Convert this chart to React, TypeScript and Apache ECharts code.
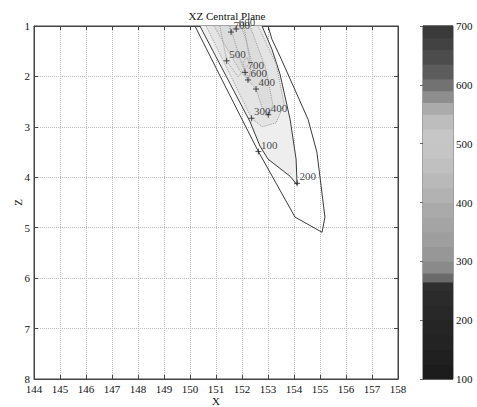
import React, { useEffect, useRef } from "react";
import * as echarts from "echarts";

// Axis ticks
const xMin = 144, xMax = 158;
const zMin = 1, zMax = 8;
const cbMin = 100, cbMax = 700;

// Contour lines [x, z]
const contour100: number[][] = [
  [150.19, 1.0], [151.41, 2.25], [152.62, 3.48], [154.04, 4.79], [155.08, 5.09],
  [155.19, 4.79], [154.88, 3.5], [154.54, 2.85], [153.85, 2.05], [153.46, 1.6],
  [153.15, 1.26], [153.0, 1.0],
];
const contour200: number[][] = [
  [150.38, 1.0], [152.31, 2.9], [152.69, 3.38], [153.0, 3.64], [153.85, 3.98],
  [154.12, 4.15], [154.08, 3.64], [153.85, 2.85], [153.46, 1.95], [153.15, 1.46],
  [152.77, 1.0],
];
const contour300: number[][] = [
  [150.62, 1.0], [152.37, 2.83], [152.77, 3.0], [153.31, 2.92], [153.62, 2.55],
  [153.31, 1.75], [152.62, 1.0],
];
const contour400: number[][] = [
  [150.92, 1.0], [151.92, 1.89], [152.54, 2.25], [152.77, 2.61], [153.0, 2.77],
  [153.19, 2.57], [152.92, 1.85], [152.31, 1.0],
];
const contour500: number[][] = [
  [151.15, 1.0], [151.41, 1.69], [151.85, 2.01], [152.31, 1.73], [152.08, 1.0],
];
const contour600: number[][] = [
  [151.54, 1.0], [151.92, 1.65], [152.23, 2.07], [152.46, 1.89], [152.15, 1.26],
  [151.96, 1.0],
];
const contour700a: number[][] = [
  [151.5, 1.0], [151.58, 1.12], [151.73, 1.0],
];
const contour700b: number[][] = [
  [152.04, 1.71], [152.12, 1.92], [152.27, 2.01], [152.35, 1.81], [152.19, 1.62],
  [152.04, 1.71],
];

// Contour labels [x, z, level]
const contourLabels: number[][] = [
  [151.58, 1.12, 700],
  [151.78, 1.06, 600],
  [151.41, 1.69, 500],
  [152.12, 1.92, 700],
  [152.23, 2.07, 600],
  [152.54, 2.25, 400],
  [152.37, 2.83, 300],
  [153.01, 2.76, 400],
  [152.63, 3.49, 100],
  [154.12, 4.12, 200],
];

// Colorbar bands [low, high] and their gray shades
const colorbarBands: number[][] = [
  [100, 125], [125, 150], [150, 175], [175, 200], [200, 225], [225, 250],
  [250, 265], [265, 280], [280, 300], [300, 325], [325, 350], [350, 375],
  [375, 400], [400, 425], [425, 450], [450, 475], [475, 500], [500, 525],
  [525, 550], [550, 570], [570, 590], [590, 610], [610, 635], [635, 660],
  [660, 680], [680, 700],
];
const colorbarGrays: string[] = [
  "#1c1c1c", "#202020", "#232323", "#252525", "#282828", "#2b2b2b",
  "#2e2e2e", "#6a6a6a", "#8a8a8a", "#979797", "#9e9e9e", "#a4a4a4",
  "#aaaaaa", "#b2b2b2", "#b9b9b9", "#c0c0c0", "#c5c5c5", "#c6c6c6",
  "#bdbdbd", "#ababab", "#8e8e8e", "#727272", "#5c5c5c", "#4c4c4c",
  "#424242", "#3a3a3a",
];

const FONT = "Liberation Serif";

export default function App() {
  const ref = useRef<HTMLDivElement>(null);
  useEffect(() => {
    const chart = echarts.init(ref.current!, null, { renderer: "svg" });

    const solid = (data: number[][]) => ({
      type: "line",
      xAxisIndex: 0,
      yAxisIndex: 0,
      data,
      showSymbol: false,
      silent: true,
      z: 3,
      lineStyle: { color: "#3a3a3a", width: 1 },
    });
    const dotted = (data: number[][]) => ({
      type: "line",
      xAxisIndex: 0,
      yAxisIndex: 0,
      data,
      showSymbol: false,
      silent: true,
      z: 3,
      lineStyle: { color: "#9a9a9a", width: 1, type: "dotted" },
    });
    const fillPoly = (poly: number[][], fill: string) => ({
      type: "custom",
      xAxisIndex: 0,
      yAxisIndex: 0,
      data: [[poly[0][0], poly[0][1]]],
      silent: true,
      z: 1,
      renderItem: (_p: any, api: any) => ({
        type: "polygon",
        shape: { points: poly.map((pt) => api.coord(pt)) },
        style: { fill },
      }),
    });

    const option: any = {
      animation: false,
      textStyle: { fontFamily: FONT },
      title: {
        text: "XZ Central Plane",
        left: 222,
        top: 5,
        textAlign: "center",
        textStyle: { fontSize: 11, fontWeight: "normal", color: "#111", fontFamily: FONT },
      },
      grid: [
        { left: 34, right: 79, top: 26, bottom: 28, show: true, borderColor: "#444", borderWidth: 1, outerBoundsMode: "none", containLabel: false },
        { left: 423, width: 30, top: 26, bottom: 28, show: true, borderColor: "#444", borderWidth: 1, outerBoundsMode: "none", containLabel: false },
      ],
      xAxis: [
        {
          type: "value", gridIndex: 0, min: xMin, max: xMax, interval: 1,
          name: "X", nameLocation: "middle", nameGap: 16, nameMoveOverlap: false,
          nameTextStyle: { fontSize: 11, color: "#111", fontFamily: FONT },
          axisLine: { show: true, lineStyle: { color: "#444" } },
          axisTick: { show: true, inside: true, length: 4, lineStyle: { color: "#444" } },
          axisLabel: { color: "#111", fontSize: 11, margin: 4, fontFamily: FONT },
          splitLine: { show: true, lineStyle: { type: "dotted", color: "#bdbdbd" } },
        },
        {
          type: "value", gridIndex: 0, position: "top", min: xMin, max: xMax, interval: 1,
          axisLine: { show: true, lineStyle: { color: "#444" } },
          axisTick: { show: true, inside: true, length: 4, lineStyle: { color: "#444" } },
          axisLabel: { show: false },
          splitLine: { show: false },
        },
        { type: "value", gridIndex: 1, min: 0, max: 1, show: false },
      ],
      yAxis: [
        {
          type: "value", gridIndex: 0, min: zMin, max: zMax, interval: 1, inverse: true,
          name: "Z", nameLocation: "middle", nameGap: 11, nameMoveOverlap: false,
          nameTextStyle: { fontSize: 11, color: "#111", fontFamily: FONT },
          axisLine: { show: true, lineStyle: { color: "#444" } },
          axisTick: { show: true, inside: true, length: 4, lineStyle: { color: "#444" } },
          axisLabel: { color: "#111", fontSize: 11, margin: 4, fontFamily: FONT },
          splitLine: { show: true, lineStyle: { type: "dotted", color: "#bdbdbd" } },
        },
        {
          type: "value", gridIndex: 0, position: "right", min: zMin, max: zMax, interval: 1, inverse: true,
          axisLine: { show: true, lineStyle: { color: "#444" } },
          axisTick: { show: true, inside: true, length: 4, lineStyle: { color: "#444" } },
          axisLabel: { show: false },
          splitLine: { show: false },
        },
        {
          type: "value", gridIndex: 1, min: cbMin, max: cbMax, interval: 100, position: "right",
          axisLine: { show: true, lineStyle: { color: "#444" } },
          axisTick: { show: true, inside: true, length: 3, lineStyle: { color: "#666" } },
          axisLabel: { color: "#111", fontSize: 11, margin: 3, fontFamily: FONT },
          splitLine: { show: false },
        },
      ],
      series: [
        fillPoly(contour200, "#eeeeee"),
        fillPoly(contour300, "#e4e4e4"),
        fillPoly(contour400, "#dcdcdc"),
        solid(contour100),
        solid(contour200),
        dotted(contour300),
        dotted(contour400),
        dotted(contour500),
        dotted(contour600),
        dotted(contour700a),
        dotted(contour700b),
        {
          type: "scatter",
          xAxisIndex: 0,
          yAxisIndex: 0,
          data: contourLabels,
          symbol: "path://M5,0L5,10M0,5L10,5",
          symbolSize: 6,
          silent: true,
          z: 5,
          itemStyle: { color: "none", borderColor: "#222", borderWidth: 1 },
          label: {
            show: true,
            formatter: (p: any) => String(p.value[2]),
            position: "right",
            distance: 0,
            offset: [-3, -7],
            fontSize: 11,
            color: "#111",
            textBorderWidth: 0,
            textBorderColor: "transparent",
            fontFamily: FONT,
          },
        },
        {
          type: "custom",
          xAxisIndex: 2,
          yAxisIndex: 2,
          data: colorbarBands.map((b, i) => [b[0], b[1], i]),
          encode: { y: [0, 1] },
          silent: true,
          renderItem: (_p: any, api: any) => {
            const lo = api.value(0);
            const hi = api.value(1);
            const idx = api.value(2);
            const p0 = api.coord([0, lo]);
            const p1 = api.coord([1, hi]);
            return {
              type: "rect",
              shape: { x: p0[0], y: p1[1] - 0.5, width: p1[0] - p0[0], height: p0[1] - p1[1] + 1 },
              style: { fill: colorbarGrays[idx] },
            };
          },
        },
      ],
    };
    chart.setOption(option);
    return () => chart.dispose();
  }, []);
  return (
    <div
      ref={ref}
      style={{ position: "absolute", left: 0, top: 0, width: 477, height: 407, background: "#fff" }}
    />
  );
}
